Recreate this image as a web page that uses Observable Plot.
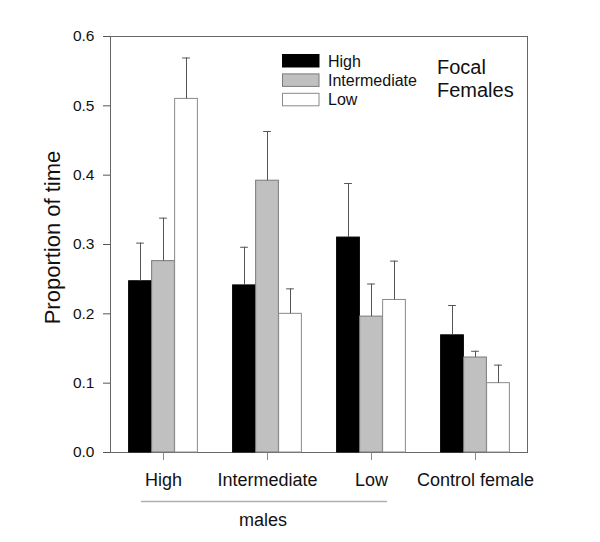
<!DOCTYPE html>
<html>
<head>
<meta charset="utf-8">
<script src="https://cdn.jsdelivr.net/npm/d3@7"></script>
<script src="https://cdn.jsdelivr.net/npm/@observablehq/plot@0.6"></script>
<style>
  html, body { margin: 0; padding: 0; background: #fff; }
  #chart { width: 600px; height: 542px; }
</style>
</head>
<body>
<div id="chart"></div>
<script>
// Data
const groups = ["High", "Intermediate", "Low", "Control female"];
const series = ["High", "Intermediate", "Low"];
const highMean = [0.247, 0.241, 0.310, 0.169];
const highSE   = [0.055, 0.055, 0.078, 0.043];
const interMean = [0.276, 0.392, 0.196, 0.137];
const interSE   = [0.062, 0.071, 0.047, 0.009];
const lowMean = [0.510, 0.200, 0.220, 0.100];
const lowSE   = [0.059, 0.036, 0.056, 0.026];
const yTicks = [0, 0.1, 0.2, 0.3, 0.4, 0.5, 0.6];
const seriesFill = ["#000000", "#c0c0c0", "#ffffff"];
const seriesStroke = ["#000000", "#7a7a7a", "#8a8a8a"];
const yTitle = "Proportion of time";
const annotation = ["Focal", "Females"];
const groupLabel = "males";

const means = [highMean, interMean, lowMean];
const ses = [highSE, interSE, lowSE];
const rows = [];
series.forEach((s, i) => {
  groups.forEach((g, j) => {
    rows.push({group: g, series: s, mean: means[i][j], upper: means[i][j] + ses[i][j]});
  });
});

const barW = 23;
const band = (527 - 110) / groups.length;
const inset = (band - barW) / 2;
const capInset = (band - 8) / 2;
const font = "'Liberation Sans', Arial, Helvetica, sans-serif";

const marks = [Plot.frame({stroke: "#666"})];
series.forEach((s, i) => {
  const d = rows.filter(r => r.series === s);
  const off = (i - 1) * barW;
  marks.push(Plot.barY(d, {x: "group", y1: 0, y2: "mean", fill: seriesFill[i], stroke: seriesStroke[i], strokeWidth: 1, insetLeft: inset, insetRight: inset, dx: off}));
  marks.push(Plot.ruleX(d, {x: "group", y1: "mean", y2: "upper", stroke: "#555", strokeWidth: 1, dx: off}));
  marks.push(Plot.tickY(d, {x: "group", y: "upper", stroke: "#555", strokeWidth: 1, insetLeft: capInset, insetRight: capInset, dx: off}));
});
marks.push(Plot.axisY({ticks: yTicks, tickFormat: ".1f", tickSize: 7, tickPadding: 9, fontSize: 15.5, label: null, stroke: "#555", fill: "#111"}));
marks.push(Plot.axisX({tickSize: 8, tickPadding: 13, fontSize: 18, label: null, stroke: "#888", fill: "#111"}));
marks.push(Plot.text([yTitle], {text: d => d, frameAnchor: "left", textAnchor: "middle", rotate: -90, fontSize: 22, dx: -58, dy: -7, fill: "#111"}));

const chart = Plot.plot({
  width: 600,
  height: 542,
  marginLeft: 110,
  marginRight: 73,
  marginTop: 36,
  marginBottom: 90,
  style: {fontFamily: font, background: "#fff", color: "#111", overflow: "visible"},
  x: {domain: groups, padding: 0, axis: null},
  y: {domain: [0, 0.6], axis: null},
  marks
});
document.getElementById("chart").appendChild(chart);

// Legend and annotations
const svg = d3.select(chart);
const leg = svg.append("g").attr("font-family", font).attr("font-size", 16).attr("text-anchor", "start");
series.forEach((s, i) => {
  leg.append("rect")
    .attr("x", 282.5).attr("y", 54.5 + i * 19.4)
    .attr("width", 36.5).attr("height", 12.5)
    .attr("fill", seriesFill[i]).attr("stroke", seriesStroke[i]);
  leg.append("text").attr("x", 328).attr("y", 66.8 + i * 19.2).attr("fill", "#111").text(s);
});
const ann = svg.append("g").attr("font-family", font).attr("font-size", 20).attr("fill", "#111").attr("text-anchor", "start");
annotation.forEach((t, i) => ann.append("text").attr("x", 437).attr("y", 73.5 + i * 23).text(t));

svg.append("line").attr("x1", 141).attr("x2", 387).attr("y1", 501.5).attr("y2", 501.5)
  .attr("stroke", "#b0b0b0").attr("stroke-width", 1.5);
svg.append("text").attr("x", 263).attr("y", 526).attr("text-anchor", "middle")
  .attr("font-family", font).attr("font-size", 18).attr("fill", "#111").text(groupLabel);
</script>
</body>
</html>
